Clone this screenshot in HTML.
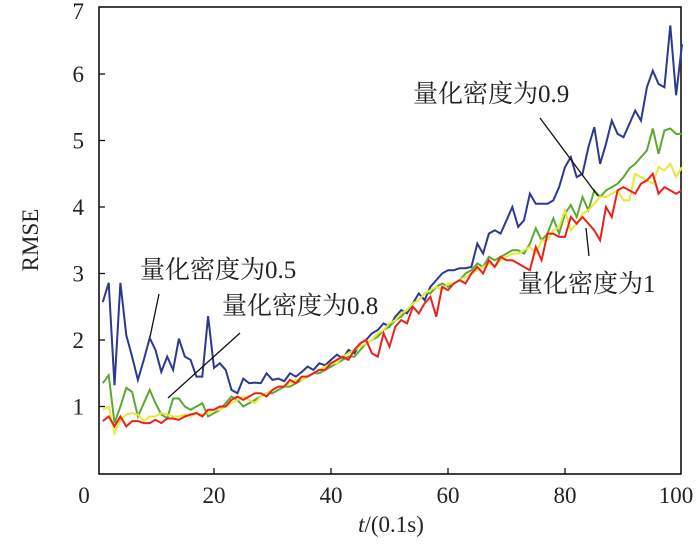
<!DOCTYPE html>
<html><head><meta charset="utf-8">
<style>
html,body{margin:0;padding:0;background:#fff;}
svg text{font-family:"Liberation Serif","Noto Serif CJK SC","Noto Sans CJK SC",serif;fill:#222;}
</style></head>
<body>
<svg id="chart" width="700" height="547" viewBox="0 0 700 547" xmlns="http://www.w3.org/2000/svg">
<g id="axes"></g>
<g id="series"></g>
<g id="annotations">
  <text x="140" y="278" font-size="25">量化密度为0.5</text>
  <line x1="159" y1="294" x2="150" y2="337" stroke="#111" stroke-width="1.3"/>
  <text x="222" y="314" font-size="25">量化密度为0.8</text>
  <line x1="240" y1="333" x2="168" y2="398" stroke="#111" stroke-width="1.3"/>
  <text x="413" y="102" font-size="25">量化密度为0.9</text>
  <line x1="540" y1="118" x2="598" y2="196" stroke="#111" stroke-width="1.3"/>
  <text x="518" y="292" font-size="25">量化密度为1</text>
  <line x1="586" y1="228" x2="589" y2="256" stroke="#111" stroke-width="1.3"/>
</g>
</svg>
<script>
const tValues = Array.from({length:100},(_,i)=>i+1);
const xTicks = [0,20,40,60,80,100];
const yTickLabels = ["1","2","3","4","5","6","7"];
const blue = [2.57,2.86,1.32,2.86,2.07,1.75,1.40,1.70,2.03,1.85,1.52,1.75,1.55,2.02,1.75,1.70,1.45,1.45,2.36,1.58,1.65,1.55,1.25,1.20,1.42,1.35,1.36,1.35,1.50,1.40,
1.42,1.38,1.50,1.45,1.52,1.60,1.55,1.65,1.62,1.70,
1.78,1.72,1.85,1.80,1.95,2.00,2.10,2.15,2.25,2.20,
2.35,2.45,2.40,2.55,2.70,2.60,2.80,2.90,3.00,3.05,
3.05,3.08,3.08,3.10,3.45,3.30,3.60,3.65,3.60,3.80,
4.00,3.70,3.80,4.20,4.05,4.05,4.05,4.10,4.30,4.60,
4.75,4.45,4.50,4.90,5.20,4.65,4.95,5.30,5.10,5.05,
5.25,5.45,5.30,5.80,6.05,5.85,5.80,6.73,5.68,6.45];
const green = [1.35,1.47,0.75,1.0,1.28,1.22,0.85,1.05,1.25,1.05,0.88,0.82,1.12,1.12,1.0,0.95,1.0,1.05,0.85,0.9,0.95,1.05,1.15,1.1,1.0,1.05,1.1,1.15,1.2,1.2,
1.25,1.3,1.3,1.35,1.4,1.45,1.5,1.5,1.55,1.6,
1.65,1.7,1.75,1.75,1.85,1.95,2.0,2.05,2.15,2.2,
2.3,2.35,2.45,2.55,2.6,2.7,2.7,2.8,2.85,2.8,
2.85,2.9,3.0,3.05,3.15,3.1,3.25,3.2,3.25,3.3,
3.35,3.35,3.3,3.45,3.68,3.5,3.6,3.83,3.6,3.9,
4.03,3.85,4.15,3.95,4.25,4.15,4.25,4.3,4.35,4.45,
4.58,4.65,4.75,4.85,5.18,4.8,5.15,5.18,5.1,5.1];
const yellow = [0.95,1.0,0.6,0.8,0.88,0.9,0.88,0.78,0.85,0.85,0.9,0.88,0.85,0.85,0.88,0.85,0.9,0.88,0.9,0.95,0.95,1.0,1.05,1.1,1.15,1.1,1.05,1.15,1.2,1.25,
1.3,1.3,1.35,1.4,1.4,1.45,1.5,1.55,1.6,1.65,
1.65,1.75,1.8,1.85,1.9,1.95,2.0,2.1,2.15,2.25,
2.3,2.4,2.45,2.55,2.6,2.7,2.75,2.8,2.75,2.85,
2.85,2.9,2.95,3.0,3.05,3.1,3.15,3.1,3.2,3.25,
3.3,3.3,3.35,3.4,3.3,3.5,3.5,3.65,3.7,3.95,
3.65,3.75,3.9,3.95,4.05,4.15,4.15,4.2,4.25,4.1,
4.1,4.5,4.45,4.4,4.35,4.6,4.55,4.65,4.45,4.6];
const red = [0.78,0.85,0.7,0.85,0.7,0.78,0.78,0.75,0.75,0.8,0.75,0.82,0.82,0.8,0.85,0.88,0.9,0.85,0.95,0.95,1.0,1.0,1.1,1.15,1.1,1.15,1.2,1.2,1.15,1.25,
1.3,1.3,1.4,1.35,1.45,1.45,1.5,1.55,1.55,1.65,
1.7,1.75,1.7,1.85,1.95,2.0,1.8,1.75,2.1,1.9,
2.2,2.3,2.25,2.5,2.4,2.55,2.65,2.35,2.8,2.75,
2.85,2.9,2.85,3.0,3.1,3.0,3.2,3.1,3.25,3.2,
3.2,3.15,3.1,3.05,3.4,3.2,3.6,3.6,3.55,3.55,
3.85,3.75,3.85,3.75,3.65,3.5,4.0,3.85,4.25,4.3,
4.25,4.2,4.35,4.4,4.5,4.2,4.3,4.25,4.2,4.25];

const NS="http://www.w3.org/2000/svg";
const L=99,R=681,T=7,B=474;
function xs(t){return 97+5.85*t;}
function ys(v){return 473-66.5*v;}
const axes=document.getElementById('axes');
function mk(tag,attrs,parent){const e=document.createElementNS(NS,tag);for(const k in attrs)e.setAttribute(k,attrs[k]);parent.appendChild(e);return e;}

const frame=mk('rect',{x:L,y:T,width:R-L,height:B-T,fill:'none',stroke:'#111','stroke-width':1.6},axes);



xTicks.forEach(t=>{
  if(t>0&&t<100){
    const tk=mk('line',{x1:xs(t),x2:xs(t),y1:B,y2:B-6,stroke:'#111','stroke-width':1.3},axes);
    
    
  }
  const lx = t===0 ? 84 : (t===100 ? 676 : xs(t));
  const lb=mk('text',{x:lx,y:503,'font-size':23,'text-anchor':'middle'},axes);
  lb.textContent=String(t);
  
  
});
yTickLabels.forEach((s,i)=>{
  const v=Number(s);
  if(v<7){
    const tk=mk('line',{x1:L,x2:L+6,y1:ys(v),y2:ys(v),stroke:'#111','stroke-width':1.3},axes);
    
    
  }
  const lb=mk('text',{x:84,y:Math.max(ys(v)+8,19),'font-size':23,'text-anchor':'end'},axes);
  lb.textContent=s;
  
  
});
const yt=mk('text',{x:0,y:0,'font-size':23,'text-anchor':'middle',transform:'translate(38,240) rotate(-90)'},axes);
yt.textContent='RMSE';


const xt=mk('text',{x:391,y:532,'font-size':23,'text-anchor':'middle'},axes);
xt.innerHTML='<tspan font-style="italic">t</tspan>/(0.1s)';



const ser=document.getElementById('series');
[[blue,'#2b3990','series-density-0.5'],[green,'#5aaa32','series-density-0.8'],[yellow,'#e8e83a','series-density-0.9'],[red,'#e8231e','series-density-1']].forEach(([d,c,n])=>{
  const pts=d.map((v,i)=>xs(tValues[i]).toFixed(1)+','+ys(v).toFixed(1)).join(' ');
  const pl=mk('polyline',{points:pts,fill:'none',stroke:c,'stroke-width':2,'stroke-linejoin':'miter'},ser);
  
  
});
</script>
</body></html>
